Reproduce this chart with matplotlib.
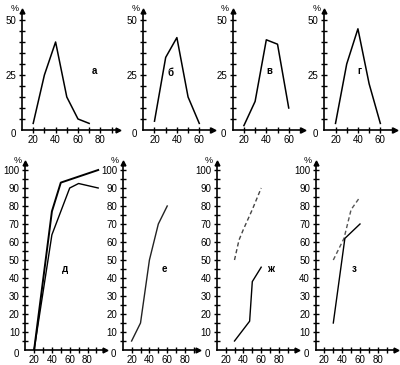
import matplotlib
matplotlib.use("Agg")
import matplotlib.pyplot as plt

plt.rcParams['font.family'] = ['Liberation Sans', 'DejaVu Sans']

# ---- data ----
a_x = [20, 30, 40, 50, 60, 70]
a_y = [3, 25, 40, 15, 5, 3]
b_x = [20, 30, 40, 50, 60]
b_y = [4, 33, 42, 15, 3]
v_x = [20, 30, 40, 50, 60]
v_y = [2, 13, 41, 39, 10]
g_x = [20, 30, 40, 50, 60]
g_y = [3, 30, 46, 21, 3]

d1_x = [20, 40, 50, 92]
d1_y = [0, 77, 93, 100]
d2_x = [20, 40, 60, 70, 92]
d2_y = [0, 64, 90, 92.5, 90]
e_x = [20, 30, 40, 50, 60]
e_y = [5, 15, 50, 70, 80]
zh_dash_x = [30, 35, 40, 50, 60]
zh_dash_y = [50, 61, 67, 78, 90]
zh_x = [30, 47, 50, 60]
zh_y = [5, 16, 38, 46]
z_dash_x = [30, 42, 50, 60]
z_dash_y = [50, 62, 78, 85]
z_x = [30, 43, 60]
z_y = [15, 62, 70]

top_yticks = [0, 25, 50]
bot_yticks = [0, 10, 20, 30, 40, 50, 60, 70, 80, 90, 100]
xtick_labels = [20, 40, 60, 80]

W, H = 400, 365
fig = plt.figure(figsize=(W / 100, H / 100), dpi=100)


def make_ax(left, right, bottom, top):
    return fig.add_axes([left / W, (H - bottom) / H, (right - left) / W, (bottom - top) / H])


FS = 7


def style(ax, xmax, ymax, ymajor, yminor_step, xticks_max, xlabels):
    ax.set_xlim(10, xmax)
    ax.set_ylim(0, ymax)
    for s in ['top', 'right']:
        ax.spines[s].set_visible(False)
    for s in ['left', 'bottom']:
        ax.spines[s].set_linewidth(1.2)
    ax.set_facecolor('none')
    yt = list(range(yminor_step, int(ymajor[-1]) + 1, yminor_step))
    ax.set_yticks(yt)
    ax.set_yticklabels([str(t) if t in ymajor else '' for t in yt], fontsize=FS)
    xt = list(range(20, xticks_max + 1, 10))
    ax.set_xticks(xt)
    ax.set_xticklabels([str(t) if t in xlabels else '' for t in xt], fontsize=FS)
    ax.tick_params(direction='inout', length=4, width=1, pad=1.5)
    ax.tick_params(axis='y', pad=2)
    ax.plot(1, 0, '>k', markersize=3.5, transform=ax.transAxes, clip_on=False)
    ax.plot(0, 1, '^k', markersize=3.5, transform=ax.transAxes, clip_on=False)
    ax.annotate('%', xy=(0, 1), xycoords='axes fraction', xytext=(-2.5, 2),
                textcoords='offset points', ha='right', va='center', fontsize=FS - 0.5)
    ax.annotate('0', xy=(0, 0), xycoords='axes fraction', xytext=(-4.5, -3),
                textcoords='offset points', ha='right', va='center', fontsize=FS)


def letter(ax, x, y, s):
    ax.text(x, y, s, fontsize=7, fontweight='bold', ha='center', va='center')


# ---- top row ----
TB, TT = 130, 130 - 54 * 2.2
ax = make_ax(22, 118.3, TB, TT)
style(ax, 96, 54, top_yticks, 5, 90, xtick_labels)
ax.plot(a_x, a_y, color='k', lw=1.1)
letter(ax, 75, 27, 'а')

ax = make_ax(143.3, 212.7, TB, TT)
style(ax, 72, 54, top_yticks, 5, 70, xtick_labels)
ax.plot(b_x, b_y, color='k', lw=1.1)
letter(ax, 34.5, 26, 'б')

ax = make_ax(232.7, 303.3, TB, TT)
style(ax, 73, 54, top_yticks, 5, 70, xtick_labels)
ax.plot(v_x, v_y, color='k', lw=1.1)
letter(ax, 42.5, 27, 'в')

ax = make_ax(324.3, 394.9, TB, TT)
style(ax, 73, 54, top_yticks, 5, 70, xtick_labels)
ax.plot(g_x, g_y, color='k', lw=1.1)
letter(ax, 41, 27, 'г')

# ---- bottom row ----
BB, BT = 350, 350 - 104 * 1.8
ax = make_ax(25.2, 105.3, BB, BT)
style(ax, 100, 104, bot_yticks, 5, 90, xtick_labels)
ax.plot(d1_x, d1_y, color='k', lw=1.4)
ax.plot(d2_x, d2_y, color='k', lw=1.0)
letter(ax, 55, 45, 'д')

ax = make_ax(122.7, 198.4, BB, BT)
style(ax, 95, 104, bot_yticks, 5, 90, xtick_labels)
ax.plot(e_x, e_y, color='#222222', lw=1.0)
letter(ax, 57, 45, 'е')

ax = make_ax(216.7, 296.8, BB, BT)
style(ax, 100, 104, bot_yticks, 5, 90, xtick_labels)
ax.plot(zh_dash_x, zh_dash_y, color='#444444', lw=1.0, ls=(0, (3, 2)))
ax.plot(zh_x, zh_y, color='k', lw=1.0)
letter(ax, 70, 45, 'ж')

ax = make_ax(315.5, 395.6, BB, BT)
style(ax, 100, 104, bot_yticks, 5, 90, xtick_labels)
ax.plot(z_dash_x, z_dash_y, color='#555555', lw=1.0, ls=(0, (3, 2)))
ax.plot(z_x, z_y, color='k', lw=1.0)
letter(ax, 53, 45, 'з')

fig.savefig('out.png', dpi=100, facecolor='white')
